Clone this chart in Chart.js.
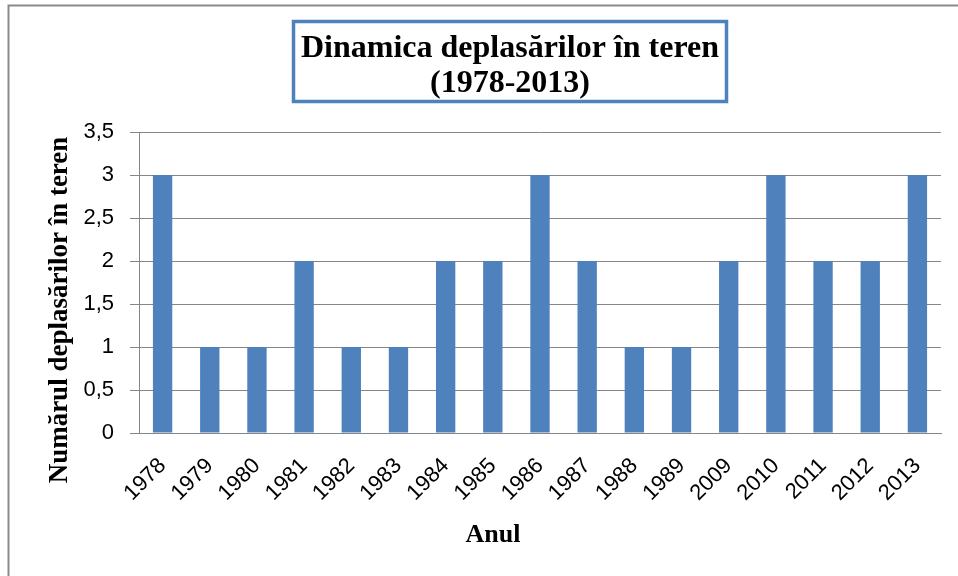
<!DOCTYPE html>
<html>
<head>
<meta charset="utf-8">
<script src="https://cdn.jsdelivr.net/npm/chart.js@4"></script>
<style>
html,body{margin:0;padding:0;background:#fff;}
#wrap{width:958px;height:576px;position:relative;}
</style>
</head>
<body>
<div id="wrap"><canvas id="c" width="958" height="576"></canvas></div>
<script>
const categories = ["1978","1979","1980","1981","1982","1983","1984","1985","1986","1987","1988","1989","2009","2010","2011","2012","2013"];
const deplasari = [3,1,1,2,1,1,2,2,3,2,1,1,2,3,2,2,3];
const titleLines = ["Dinamica deplasărilor în teren","(1978-2013)"];
const yTitle = "Numărul deplasărilor în teren";
const xTitle = "Anul";

const decor = {
  id: 'decor',
  beforeDraw(chart){
    const ctx = chart.ctx;
    ctx.save();
    ctx.strokeStyle = '#8a8a8a';
    ctx.lineWidth = 2;
    ctx.strokeRect(8.5, 5.5, 1000, 600);
    ctx.restore();
  },
  afterDraw(chart){
    const ctx = chart.ctx;
    ctx.save();
    // title box
    ctx.strokeStyle = '#4F81BD';
    ctx.lineWidth = 3.5;
    ctx.strokeRect(293.5, 21.5, 433, 80);
    // title text
    ctx.fillStyle = '#000';
    ctx.textAlign = 'center';
    ctx.textBaseline = 'alphabetic';
    ctx.font = 'bold 32px "Liberation Serif"';
    ctx.fillText(titleLines[0], 510, 57);
    ctx.fillText(titleLines[1], 510, 92);
    // x title
    ctx.font = 'bold 26px "Liberation Serif"';
    ctx.fillText(xTitle, 493, 542);
    // y title
    ctx.font = 'bold 27px "Liberation Serif"';
    ctx.translate(67, 310);
    ctx.rotate(-Math.PI / 2);
    ctx.fillText(yTitle, 0, 0);
    ctx.restore();
  }
};

new Chart(document.getElementById('c'), {
  type: 'bar',
  data: {
    labels: categories,
    datasets: [{
      data: deplasari,
      backgroundColor: '#4F81BD',
      barPercentage: 0.41,
      categoryPercentage: 1
    }]
  },
  options: {
    responsive: false,
    animation: false,
    layout: { padding: { left: 0, right: 17, top: 132, bottom: 0 } },
    plugins: {
      legend: { display: false },
      tooltip: { enabled: false },
      title: { display: false }
    },
    scales: {
      x: {
        afterFit(scale){ scale.height = 143; },
        grid: { display: false },
        border: { display: true, color: '#868686', width: 1 },
        ticks: {
          color: '#000',
          font: { family: 'Liberation Sans', size: 22 },
          minRotation: 45, maxRotation: 45,
          autoSkip: false,
          padding: 12
        }
      },
      y: {
        afterFit(scale){ scale.width = 139; },
        min: 0, max: 3.5,
        grid: { color: '#868686', lineWidth: 1, tickLength: 9, drawTicks: true },
        border: { display: true, color: '#868686', width: 1 },
        ticks: {
          stepSize: 0.5,
          color: '#000',
          font: { family: 'Liberation Sans', size: 22 },
          padding: 16,
          callback: v => String(v).replace('.', ',')
        }
      }
    }
  },
  plugins: [decor]
});
</script>
</body>
</html>
